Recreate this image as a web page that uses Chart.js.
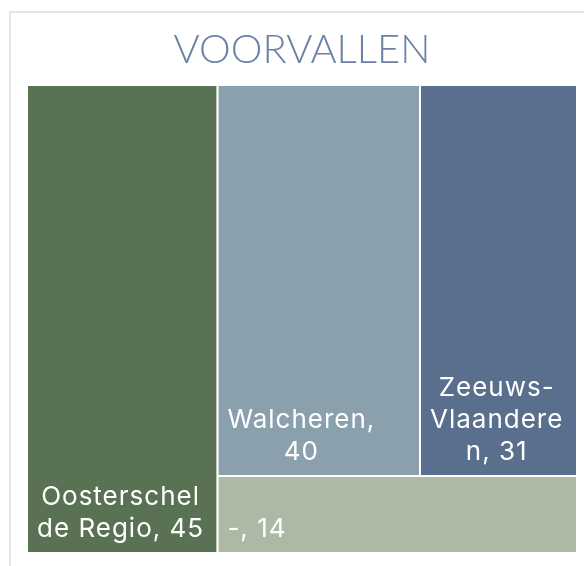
<!DOCTYPE html>
<html>
<head>
<meta charset="utf-8">
<script src="https://cdn.jsdelivr.net/npm/chart.js@4.4.1/dist/chart.umd.min.js"></script>
<style>
  html, body { margin: 0; padding: 0; background: #fff; }
  #wrap { position: relative; width: 584px; height: 566px; overflow: hidden; }
  #frame { position: absolute; left: 9px; top: 11px; width: 600px; height: 600px; border: 2px solid #e1e6ef; box-sizing: border-box; }
  canvas { position: absolute; left: 0; top: 0; }
</style>
</head>
<body>
<div id="wrap">
  <div id="frame"></div>
  <canvas id="treemap" width="584" height="566"></canvas>
</div>
<script>
// Voorvallen per regio

let regions = ["Oosterschelde Regio", "Walcheren", "Zeeuws-Vlaanderen", "-"];
let incidents = [45, 40, 31, 14];
let regionColors = ['#5a7254', '#8aa1ad', '#5a6e8e', '#aeb9a5'];

// first tile gets its own column, the rest is split in rows
let tileRows = [[1, 2], [3]];

const total = incidents.reduce((a, b) => a + b, 0);

function buildTiles() {
    const tiles = [];
    const w0 = incidents[0];
    tiles[0] = { x0: 0, x1: w0, y0: 0, y1: 1 };
    const rest = total - incidents[0];
    let y = 0;
    tileRows.forEach(row => {
        const rowSum = row.reduce((s, i) => s + incidents[i], 0);
        const h = rowSum / rest;
        let x = w0;
        row.forEach(i => {
            const w = incidents[i] / rowSum * rest;
            tiles[i] = { x0: x, x1: x + w, y0: y, y1: y + h };
            x += w;
        });
        y += h;
    });
    return tiles;
}

const tiles = buildTiles();

const datasets = regions.map((name, i) => {
    const t = tiles[i];
    return {
        label: name,
        data: [
            { x: t.x0, y: t.y0 },
            { x: t.x1, y: t.y0 },
            { x: t.x1, y: t.y1 },
            { x: t.x0, y: t.y1 },
            { x: t.x0, y: t.y0 }
        ],
        fill: 'shape',
        backgroundColor: regionColors[i],
        borderColor: '#ffffff',
        borderWidth: 2,
        pointRadius: 0,
        tension: 0
    };
});

function wrapText(ctx, text, maxW) {
    const tokens = [];
    text.split(' ').forEach((word, wi) => {
        word.split(/(?<=-)/).forEach((part, pi) => {
            tokens.push({ s: part, sep: (wi > 0 && pi === 0) ? ' ' : '' });
        });
    });
    const fits = s => ctx.measureText(s).width <= maxW;
    const lines = [];
    let cur = '';
    tokens.forEach(t => {
        const cand = cur ? cur + t.sep + t.s : t.s;
        if (fits(cand)) { cur = cand; return; }
        if (cur) { lines.push(cur); cur = ''; }
        let s = t.s;
        while (!fits(s)) {
            let n = s.length - 1;
            while (n > 1 && !fits(s.slice(0, n))) n--;
            lines.push(s.slice(0, n));
            s = s.slice(n);
        }
        cur = s;
    });
    if (cur) lines.push(cur);
    return lines;
}

const tileLabels = {
    id: 'tileLabels',
    afterDatasetsDraw(chart) {
        const { ctx, scales: { x, y } } = chart;
        ctx.save();
        ctx.font = '400 26px Inter';
        ctx.letterSpacing = '1px';
        ctx.fillStyle = '#ffffff';
        ctx.textBaseline = 'alphabetic';
        regions.forEach((name, i) => {
            const t = tiles[i];
            const left = x.getPixelForValue(t.x0);
            const right = x.getPixelForValue(t.x1);
            const bottom = y.getPixelForValue(t.y1);
            const pad = 10;
            const lines = wrapText(ctx, name + ', ' + incidents[i], right - left - 2 * pad);
            const blockW = Math.max(...lines.map(l => ctx.measureText(l).width));
            ctx.textAlign = 'center';
            lines.forEach((line, li) => {
                const by = bottom - 16 - (lines.length - 1 - li) * 32;
                ctx.fillText(line, left + pad + blockW / 2, by);
            });
        });
        ctx.restore();
    }
};

const ct1 = document.getElementById('treemap').getContext('2d');
const treemap = new Chart(ct1, {
    type: 'line',
    data: { datasets: datasets },
    options: {
        responsive: false,
        animation: false,
        layout: {
            padding: { left: 27, right: 7, top: 0, bottom: 13 }
        },
        scales: {
            x: { type: 'linear', min: 0, max: total, display: false },
            y: { type: 'linear', min: 0, max: 1, reverse: true, display: false }
        },
        plugins: {
            legend: { display: false },
            tooltip: { enabled: false },
            title: {
                display: true,
                text: 'VOORVALLEN',
                color: '#6a82a8',
                font: { family: 'Lato', size: 40, weight: '300', lineHeight: 1.2 },
                padding: { top: 26, bottom: 11 }
            }
        }
    },
    plugins: [tileLabels]
});
</script>
</body>
</html>
